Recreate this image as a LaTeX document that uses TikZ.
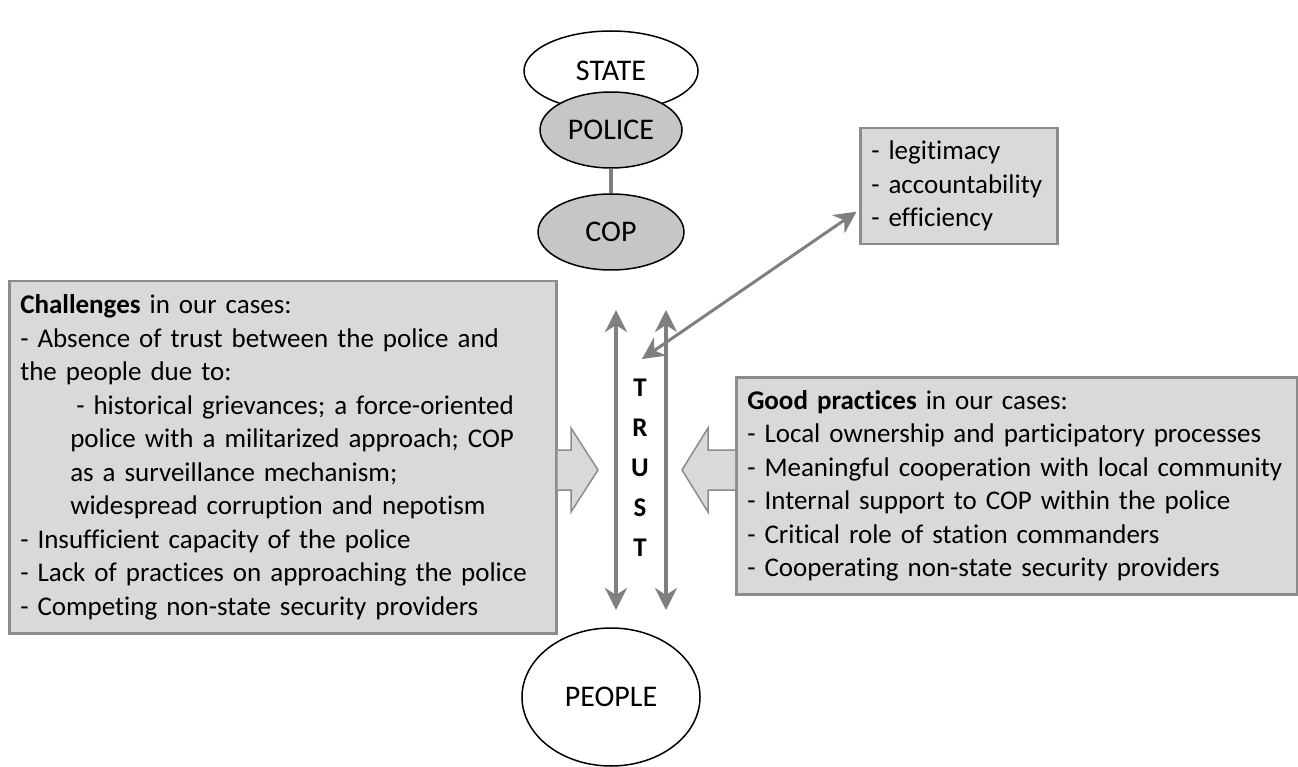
\documentclass[tikz,border=0pt]{standalone}
\usepackage{fontspec}
\setmainfont{Carlito}[Ligatures=NoCommon]
\usetikzlibrary{shapes.geometric,arrows.meta}

\definecolor{boxgray}{HTML}{D9D9D9}
\definecolor{edgegray}{HTML}{8C8C8C}
\definecolor{ovalgray}{HTML}{C6C6C6}
\definecolor{linkgray}{HTML}{7F7F7F}
\hyphenpenalty=10000

\begin{document}
\begin{tikzpicture}
    [ x=1pt, y=-1pt
    , oval/.style={ellipse, draw=black, line width=1.5pt, inner sep=0pt, font=\fontsize{30}{36}\selectfont}
    , infobox/.style={draw=edgegray, fill=boxgray, line width=2.5pt, inner xsep=11pt, align=left, font=\fontsize{27}{33.5}\selectfont}
    , blockarrow/.style={draw=edgegray, fill=boxgray, line width=1.5pt, line join=miter}
    , link/.style={draw=linkgray, line width=4pt}
    , trustarrow/.style={draw=linkgray, line width=4pt, {Stealth[length=22pt, width=22pt, inset=7pt]}-{Stealth[length=22pt, width=22pt, inset=7pt]}}
    ]
\useasboundingbox (0,0) rectangle (1298,767);

\node[oval, fill=white, minimum width=174pt, minimum height=80pt] (state) at (611,71) {STATE};
\node[oval, fill=ovalgray, minimum width=142pt, minimum height=76pt] (police) at (611,130) {POLICE};
\node[oval, fill=ovalgray, minimum width=146pt, minimum height=76pt] (cop) at (611,232) {COP};
\draw[link] (police) -- (cop);
\node[oval, fill=white, minimum width=178pt, minimum height=138pt] (people) at (611,697) {PEOPLE};

\node[infobox, anchor=north west, text width=525pt, minimum height=352pt] (challenges) at (8,280) {%
\textbf{Challenges} in our cases:\\
- Absence of trust between the police and\\
the people due to:\\
\hspace*{56pt}- historical grievances; a force-oriented\\
\hspace*{50pt}police with a militarized approach; COP\\
\hspace*{50pt}as a surveillance mechanism;\\
\hspace*{50pt}widespread corruption and nepotism\\
- Insufficient capacity of the police\\
- Lack of practices on approaching the police\\
- Competing non-state security providers};

\node[infobox, anchor=north west, text width=539pt, minimum height=217pt] (practices) at (735,376) {%
\textbf{Good practices} in our cases:\\
- Local ownership and participatory processes\\
- Meaningful cooperation with local community\\
- Internal support to COP within the police\\
- Critical role of station commanders\\
- Cooperating non-state security providers};

\node[infobox, anchor=north west, text width=175pt, minimum height=116pt] (values) at (859,127) {%
- legitimacy\\
- accountability\\
- efficiency};

\node[font=\fontsize{27}{40}\selectfont\bfseries, align=center] (trust) at (640,468) {T\\R\\U\\S\\T};

% block arrows into the trust column
\draw[blockarrow] (challenges.east |- 0,450) -- (571,450) -- (571,428) -- (598,470)
    -- (571,512) -- (571,490) -- (challenges.east |- 0,490);
\draw[blockarrow] (practices.west |- 0,450) -- (708,450) -- (708,428) -- (682,470)
    -- (708,512) -- (708,490) -- (practices.west |- 0,490);

\coordinate (upA) at (616,310);
\coordinate (downA) at (616,610);
\coordinate (upB) at (666,310);
\coordinate (downB) at (666,610);
\coordinate (trustTip) at (642,359);
\draw[trustarrow] (upA) -- (downA);
\draw[trustarrow] (upB) -- (downB);
\draw[trustarrow, line width=3pt, shorten >=3pt] (trustTip) -- (values.west |- 0,210);

\end{tikzpicture}
\end{document}
